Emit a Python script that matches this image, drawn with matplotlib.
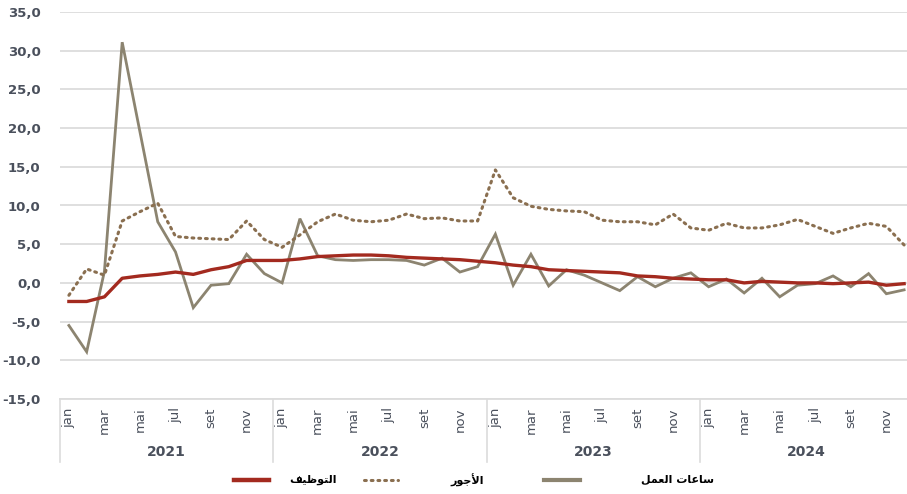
import matplotlib
matplotlib.use("Agg")
import matplotlib.pyplot as plt
from matplotlib.lines import Line2D
import numpy as np

# ---- data ----
years = ['2021', '2022', '2023', '2024']
month_labels = ['jan', 'fev', 'mar', 'abr', 'mai', 'jun', 'jul', 'ago', 'set', 'out', 'nov', 'dez']

hours = [-5.5, -8.9, 1.5, 31.1, 19.5, 7.9, 4.0, -3.2, -0.3, -0.1, 3.7, 1.2,
         0.0, 8.3, 3.5, 3.0, 2.9, 3.0, 3.0, 2.9, 2.3, 3.2, 1.4, 2.1,
         6.3, -0.3, 3.7, -0.4, 1.7, 1.0, 0.0, -1.0, 0.8, -0.5, 0.6, 1.3,
         -0.5, 0.5, -1.3, 0.6, -1.8, -0.3, -0.1, 0.9, -0.5, 1.2, -1.4, -0.9]

wages = [-1.6, 1.8, 1.0, 8.0, 9.2, 10.3, 6.0, 5.8, 5.7, 5.6, 8.0, 5.6,
         4.6, 6.2, 7.9, 8.9, 8.1, 7.9, 8.1, 8.9, 8.3, 8.4, 8.0, 8.0,
         14.6, 11.0, 9.9, 9.5, 9.3, 9.2, 8.1, 7.9, 7.9, 7.5, 8.9, 7.1,
         6.8, 7.7, 7.1, 7.1, 7.5, 8.2, 7.3, 6.4, 7.1, 7.7, 7.3, 4.9]

employment = [-2.4, -2.4, -1.8, 0.6, 0.9, 1.1, 1.4, 1.1, 1.7, 2.1, 2.9, 2.9,
              2.9, 3.1, 3.4, 3.5, 3.6, 3.6, 3.5, 3.3, 3.2, 3.1, 3.0, 2.8,
              2.6, 2.3, 2.1, 1.7, 1.6, 1.5, 1.4, 1.3, 0.9, 0.8, 0.6, 0.5,
              0.4, 0.4, 0.0, 0.2, 0.1, 0.0, 0.0, -0.1, 0.0, 0.1, -0.3, -0.1]

yticks = [-15, -10, -5, 0, 5, 10, 15, 20, 25, 30, 35]

# Arabic legend labels (visual order, contextual presentation forms)
lbl_emp = '\uFED2\uFEF4\uFEC7\uFEEE\uFE98\uFEDF\uFE8D'            # التوظيف
lbl_wage = '\uFEAD\uFEEE\uFE9F\uFEF7\uFE8D'                        # الأجور
lbl_hours = '\uFEDE\uFEE4\uFECC\uFEDF\uFE8D \uFE95\uFE8E\uFECB\uFE8E\uFEB3'  # ساعات العمل

# ---- style ----
c_emp = '#a32a1f'
c_wage = '#8a6f50'
c_hours = '#8c8470'
c_text = '#4a505c'
c_grid = '#dcdcdc'

W, H = 907, 494
fig = plt.figure(figsize=(W / 100, H / 100), dpi=100)
ax_left, ax_right, ax_top, ax_bot = 60, 913, 12, 399
ax = fig.add_axes([ax_left / W, 1 - ax_bot / H, (ax_right - ax_left) / W, (ax_bot - ax_top) / H])

n = len(hours)
x = np.arange(n)

ax.plot(x, hours, color=c_hours, lw=2.0, solid_joinstyle='miter', zorder=3)
ax.plot(x, wages, color=c_wage, lw=2.2, linestyle=(0, (0.6, 1.6)), dash_capstyle='round', zorder=3)
ax.plot(x, employment, color=c_emp, lw=2.4, zorder=4)

ax.set_xlim(-0.5, n - 0.5)
ax.set_ylim(-15, 35)
ax.set_yticks(yticks)
ax.set_yticklabels([f'{v:.1f}'.replace('.', ',') for v in yticks],
                   fontsize=9.5, fontweight='bold', color=c_text, family='DejaVu Sans')
ax.grid(axis='y', color=c_grid, lw=1.3)
ax.set_axisbelow(True)
for s in ['top', 'right', 'left']:
    ax.spines[s].set_visible(False)
ax.spines['bottom'].set_color(c_grid)
ax.spines['bottom'].set_linewidth(1.3)
ax.tick_params(axis='y', length=0, pad=14)

tick_pos = list(range(0, n, 2))
ax.set_xticks(tick_pos)
ax.set_xticklabels([month_labels[i % 12] for i in tick_pos], rotation=90,
                   fontsize=9.5, color=c_text, family='DejaVu Sans')
ax.tick_params(axis='x', length=0, pad=6)

# year group separators and labels
ysep = -(462 - ax_bot) / (ax_bot - ax_top)
for b in [-0.5, 11.5, 23.5, 35.5, 47.5]:
    ax.add_line(Line2D([b, b], [0, ysep], transform=ax.get_xaxis_transform(),
                       color=c_grid, lw=1.2, clip_on=False))
yl = -(452 - ax_bot) / (ax_bot - ax_top)
for k, yr in enumerate(years):
    ax.text(k * 12 + 5.5, yl, yr, transform=ax.get_xaxis_transform(), ha='center', va='center',
            fontsize=10, fontweight='bold', color=c_text, family='DejaVu Sans')

# legend (manual)
ly = 1 - 480 / H
def fx(px):
    return px / W
fig.add_artist(Line2D([fx(234), fx(269)], [ly, ly], color=c_emp, lw=3.2))
fig.text(fx(289), ly, lbl_emp, ha='left', va='center', fontsize=8, fontweight='bold', color='black',
         family=['DejaVu Sans'])
fig.add_artist(Line2D([fx(364), fx(398)], [ly, ly], color=c_wage, lw=2.2, linestyle=(0, (0.6, 1.6)),
                      dash_capstyle='round'))
fig.text(fx(450), ly, lbl_wage, ha='left', va='center', fontsize=8, fontweight='bold', color='black',
         family=['DejaVu Sans'])
fig.add_artist(Line2D([fx(544), fx(580)], [ly, ly], color=c_hours, lw=3.0))
fig.text(fx(641), ly, lbl_hours, ha='left', va='center', fontsize=8, fontweight='bold', color='black',
         family=['DejaVu Sans'])

fig.savefig('out.png', dpi=100)
